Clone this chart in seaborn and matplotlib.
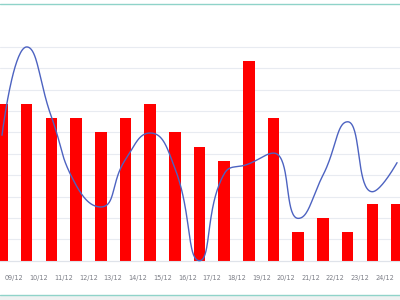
import numpy as np
import pandas as pd
import matplotlib
matplotlib.use("Agg")
import matplotlib.pyplot as plt
from matplotlib.patches import Rectangle
from matplotlib.lines import Line2D
import seaborn as sns

# ---- data ----
bar_dates = ["08/12", "09/12", "10/12", "11/12", "12/12", "13/12", "14/12", "15/12",
             "16/12", "17/12", "18/12", "19/12", "20/12", "21/12", "22/12", "23/12", "24/12"]
bar_values = [11, 11, 10, 10, 9, 10, 11, 9, 8, 7, 14, 10, 2, 3, 2, 4, 4]
line_values = [8.8, 15.0, 10.1, 5.3, 3.77, 7.1, 8.96, 6.5, 0.0, 6.1, 6.8, 7.55, 2.97, 6.0, 9.75, 4.84, 6.88]
tick_labels = ["09/12", "10/12", "11/12", "12/12", "13/12", "14/12", "15/12", "16/12",
               "17/12", "18/12", "19/12", "20/12", "21/12", "22/12", "23/12", "24/12"]
grid_values = [0, 1.5, 3, 4.5, 6, 7.5, 9, 10.5, 12, 13.5, 15]

# ---- figure ----
sns.set_theme(style="white")
plt.rcParams['font.family'] = ['DejaVu Sans']
fig = plt.figure(figsize=(4, 3), dpi=100)
fig.patch.set_facecolor("white")
ax = fig.add_axes([0, 0, 1, 1])
ax.set_facecolor("none")

df = pd.DataFrame({"date": bar_dates, "value": bar_values})
sns.barplot(data=df, x="date", y="value", color="#ff0000", saturation=1,
            width=0.47, ax=ax, zorder=2, linewidth=0)

# ECharts-style smoothing (computed in pixel space)
SX, SY = 24.69, 14.25
def smooth_curve(vals, smooth=0.5, n=40):
    P = [(i * SX, v * SY) for i, v in enumerate(vals)]
    xs, ys = [], []
    cp0 = P[0]
    for i in range(1, len(P)):
        px, py = P[i - 1]
        x, y = P[i]
        if i + 1 < len(P):
            nx, ny = P[i + 1]
            vx, vy = nx - px, ny - py
            lp = np.hypot(x - px, y - py)
            ln = np.hypot(nx - x, ny - y)
            r = ln / (ln + lp)
            ncx = x + vx * smooth * r
            ncy = y + vy * smooth * r
            ncx = max(min(ncx, max(nx, x)), min(nx, x))
            ncy = max(min(ncy, max(ny, y)), min(ny, y))
            vx, vy = ncx - x, ncy - y
            c1x = x - vx * lp / ln
            c1y = y - vy * lp / ln
            c1x = max(min(c1x, max(px, x)), min(px, x))
            c1y = max(min(c1y, max(py, y)), min(py, y))
            vx, vy = x - c1x, y - c1y
            ncx = x + vx * ln / lp
            ncy = y + vy * ln / lp
            cp1 = (c1x, c1y)
            nxt = (ncx, ncy)
        else:
            cp1 = (x, y)
            nxt = (x, y)
        t = np.linspace(0, 1, n)
        a, b, c, d = np.array(P[i - 1]), np.array(cp0), np.array(cp1), np.array(P[i])
        pts = ((1 - t) ** 3)[:, None] * a + (3 * (1 - t) ** 2 * t)[:, None] * b \
            + (3 * (1 - t) * t ** 2)[:, None] * c + (t ** 3)[:, None] * d
        xs.extend(pts[:, 0] / SX)
        ys.extend(pts[:, 1] / SY)
        cp0 = nxt
    return np.array(xs), np.array(ys)

cx, cy = smooth_curve(line_values)
sns.lineplot(x=cx, y=cy, sort=False, estimator=None, color="#4d63c1",
             linewidth=1.0, ax=ax, zorder=3)

# ---- axes styling ----
ax.set_xlim(-2 / SX, 398 / SX)
ax.set_ylim(-(300 - 260.7) / SY, 260.7 / SY)
ax.set_yticks(grid_values)
ax.yaxis.grid(True, color="#e8ebf1", linewidth=0.8)
ax.tick_params(axis="y", length=0, labelleft=False)
ax.set_xticks(np.arange(len(tick_labels)) + 0.5)
ax.set_xticklabels(tick_labels)
ax.tick_params(axis="x", length=4, width=0.7, color="#dfe3ea", labelsize=4.7,
               labelcolor="#7a7c85", pad=6.5, direction="out")
ax.set_xlabel("")
ax.set_ylabel("")
for s in ["top", "left", "right"]:
    ax.spines[s].set_visible(False)
ax.spines["bottom"].set_position(("data", 0))
ax.spines["bottom"].set_color("#dfe3ea")
ax.spines["bottom"].set_linewidth(0.8)
ax.set_axisbelow(True)

# frame decorations (teal borders)
fig.add_artist(Rectangle((0, 0), 1, 4.5 / 300, transform=fig.transFigure,
                         facecolor="#eef1f1", edgecolor="none", zorder=0))
fig.add_artist(Line2D([0, 1], [1 - 4.3 / 300] * 2, transform=fig.transFigure,
                      color="#8fd3c9", linewidth=1.0))
fig.add_artist(Line2D([0, 1], [1 - 295 / 300] * 2, transform=fig.transFigure,
                      color="#8fd3c9", linewidth=1.0))

fig.savefig("out.png", dpi=100)
